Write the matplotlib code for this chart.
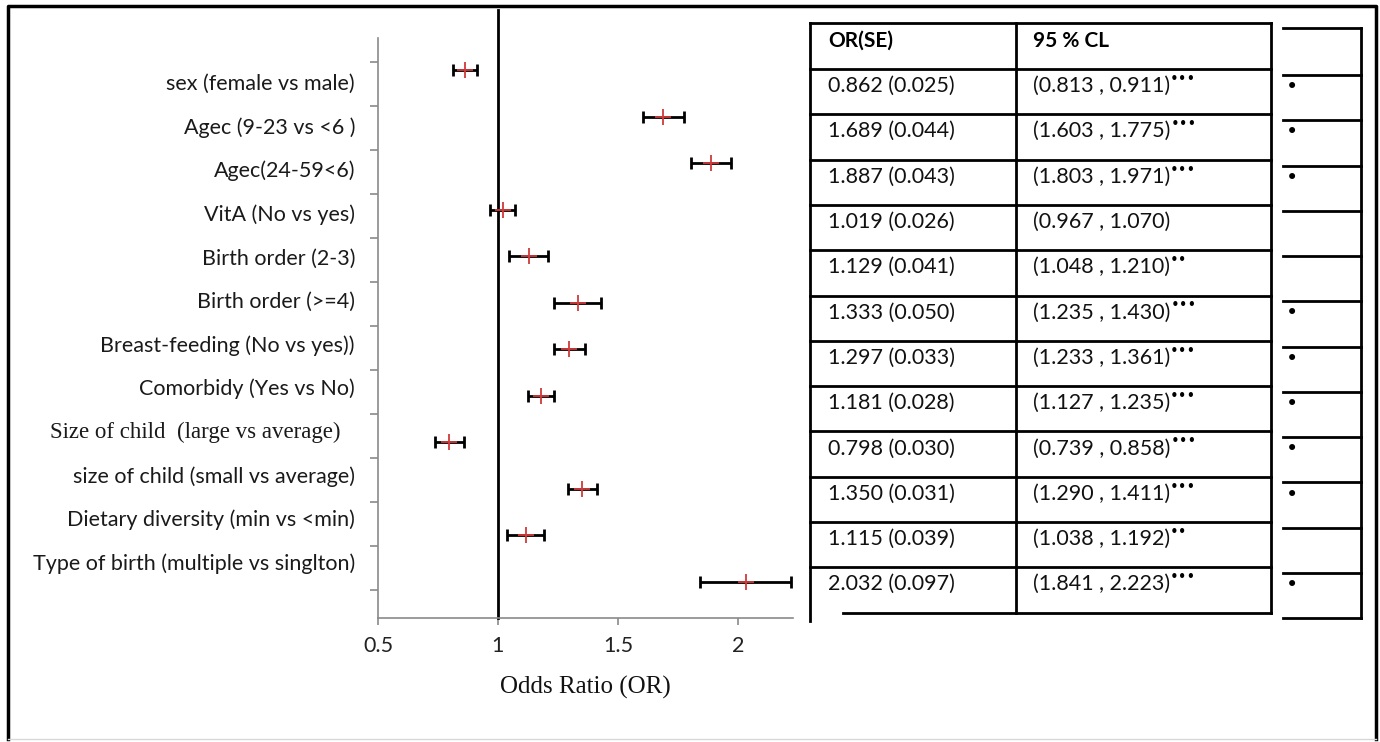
import matplotlib
matplotlib.use("Agg")
from matplotlib import pyplot as plt
from matplotlib.lines import Line2D

# data
labels = ["sex (female vs male)", "Agec (9-23 vs <6 )", "Agec(24-59<6)", "VitA (No vs yes)",
          "Birth order (2-3)", "Birth order (>=4)", "Breast-feeding (No vs yes))",
          "Comorbidy (Yes vs No)", "Size of child  (large vs average)",
          "size of child (small vs average)", "Dietary diversity (min vs <min)",
          "Type of birth (multiple vs singlton)"]
odds = [0.862, 1.689, 1.887, 1.019, 1.129, 1.333, 1.297, 1.181, 0.798, 1.350, 1.115, 2.032]
se = [0.025, 0.044, 0.043, 0.026, 0.041, 0.050, 0.033, 0.028, 0.030, 0.031, 0.039, 0.097]
ci_low = [0.813, 1.603, 1.803, 0.967, 1.048, 1.235, 1.233, 1.127, 0.739, 1.290, 1.038, 1.841]
ci_high = [0.911, 1.775, 1.971, 1.070, 1.210, 1.430, 1.361, 1.235, 0.858, 1.411, 1.192, 2.223]
stars = ["***", "***", "***", "", "**", "***", "***", "***", "***", "***", "**", "***"]
xticks = [0.5, 1, 1.5, 2]

SANS = "Lato"
SERIF = "Liberation Serif"
W, H = 1380, 742
FS = 15.5

fig = plt.figure(figsize=(13.8, 7.42), dpi=100)

# overlay in pixel coords for the frame and the table
tab = fig.add_axes([0, 0, 1, 1])
tab.set_xlim(0, W)
tab.set_ylim(H, 0)
tab.axis("off")

# outer frame
tab.add_line(Line2D([8, 8, 1376, 1376], [739, 6, 6, 739], color="black", lw=2.5))
tab.add_line(Line2D([8, 1376], [739, 739], color="#d8d8d8", lw=1))

# forest plot axes
ax = fig.add_axes([378 / W, (H - 618) / H, (793 - 378) / W, 580 / H])
ax.patch.set_alpha(0)
ax.set_xlim(0.5, 2.23)
ax.set_ylim(618, 38)

n = len(labels)
ybar = [70 + 46.5 * i for i in range(n)]
ylab = [84 + 43.6 * i for i in range(n)]

xerr = [[o - l for o, l in zip(odds, ci_low)], [h - o for o, h in zip(odds, ci_high)]]
ax.errorbar(odds, ybar, xerr=xerr, fmt="none", ecolor="black", elinewidth=2,
            capsize=4.5, capthick=2, zorder=3)
ax.plot(odds, ybar, linestyle="none", marker="+", markersize=12, mew=1.3,
        color="#d03a3a", zorder=4)

ax.axvline(1, ymin=0, ymax=(618 - 10) / 580, color="black", lw=2, clip_on=False, zorder=2)

for s in ["top", "right"]:
    ax.spines[s].set_visible(False)
for s in ["left", "bottom"]:
    ax.spines[s].set_color("#8a8a8a")
    ax.spines[s].set_linewidth(1.2)

ax.set_yticks([62 + 44 * k for k in range(13)])
ax.set_yticklabels([])
ax.tick_params(axis="y", length=6, width=1.2, color="#8a8a8a")
ax.set_xticks(xticks)
ax.set_xticklabels([str(t) for t in xticks], fontsize=FS, family=SANS, color="#222222")
ax.tick_params(axis="x", length=5, width=1.2, color="#8a8a8a", pad=8)
ax.set_xlabel("Odds Ratio (OR)", fontsize=18, family=SERIF, labelpad=14, color="#111111")

for i, lab in enumerate(labels):
    serif = lab.startswith("Size of")
    tab.text(341 if serif else 355, ylab[i], lab, ha="right", va="center",
             fontsize=16.5 if serif else FS, family=SERIF if serif else SANS,
             color="#1a1a1a")

# table
row_top = [69 + 45.3 * k for k in range(n + 1)]
tab.add_line(Line2D([810, 1271], [23, 23], color="black", lw=2))
for y in row_top[:-1]:
    tab.add_line(Line2D([810, 1271], [y, y], color="black", lw=2))
tab.add_line(Line2D([843, 1271], [row_top[-1], row_top[-1]], color="black", lw=2))
tab.add_line(Line2D([810, 810], [23, row_top[-1] + 8], color="black", lw=2))
for x in [1016, 1271]:
    tab.add_line(Line2D([x, x], [23, row_top[-1]], color="black", lw=2))

tab.text(828, 41, "OR(SE)", fontsize=FS - 0.5, family=SANS, weight="bold", va="center")
tab.text(1033, 41, "95 % CL", fontsize=FS - 0.5, family=SANS, weight="bold", va="center")
for i in range(n):
    yt = row_top[i] + 17
    tab.text(828, yt, f"{odds[i]:.3f} ({se[i]:.3f})", fontsize=FS, family=SANS,
             va="center", color="#111111")
    t = tab.text(1033, yt, f"({ci_low[i]:.3f} , {ci_high[i]:.3f})", fontsize=FS,
                 family=SANS, va="center", color="#111111")
    if stars[i]:
        tab.annotate("•" * len(stars[i]), xy=(1, 0.45), xycoords=t, fontsize=10.5,
                     family="DejaVu Sans", va="bottom", ha="left")

# little side column
side_top = [75 + 45.25 * k for k in range(n + 1)]
tab.add_line(Line2D([1283, 1361], [28, 28], color="black", lw=2))
for y in side_top:
    tab.add_line(Line2D([1283, 1361], [y, y], color="black", lw=2))
tab.add_line(Line2D([1361, 1361], [28, side_top[-1]], color="black", lw=2))
for i in range(n):
    if stars[i] == "***":
        tab.text(1292, row_top[i] + 18, "•", fontsize=15, family="DejaVu Sans",
                 ha="center", va="center")

fig.savefig("out.png", dpi=100)
